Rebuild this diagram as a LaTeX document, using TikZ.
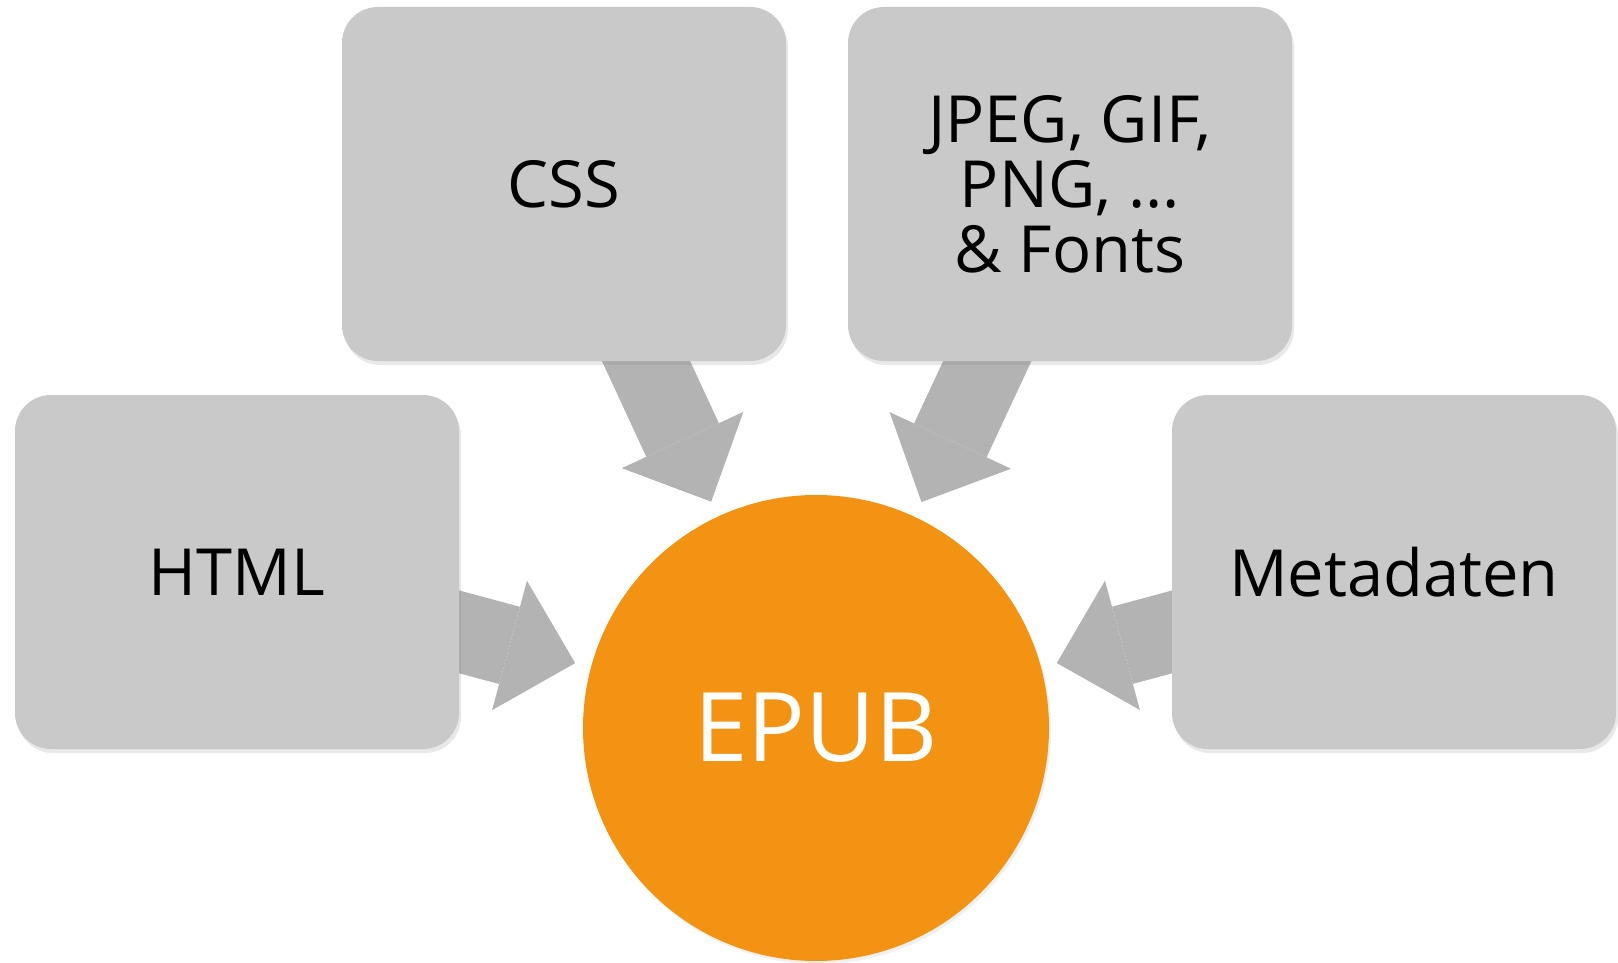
\documentclass[tikz,border=0pt]{standalone}
\usepackage{fontspec}
\setmainfont{Open Sans}
\usetikzlibrary{arrows.meta,shadows,backgrounds}

\definecolor{boxgray}{HTML}{C9C9C9}
\definecolor{arrowgray}{HTML}{B3B3B3}
\definecolor{epuborange}{HTML}{F39313}

\begin{document}
\begin{tikzpicture}[
  x=0.5pt, y=-0.5pt,
  part/.style={rectangle, rounded corners=18pt, fill=boxgray, draw=none,
    minimum width=222pt, minimum height=177pt, align=center, text=black,
    font=\fontsize{32.5}{32.5}\selectfont,
    drop shadow={opacity=0.18, shadow xshift=1pt, shadow yshift=-2pt}},
  hub/.style={circle, fill=epuborange, draw=none, minimum size=233pt,
    inner sep=0pt, text=white, font=\fontsize{48}{55}\selectfont,
    drop shadow={opacity=0.12, shadow xshift=1pt, shadow yshift=-1.5pt}},
  feed/.style={draw=arrowgray, line width=40pt, shorten >=8pt,
    -{Triangle[length=34pt, width=67pt, line width=0pt]}}
]

% page frame (pixel units)
\useasboundingbox (0,0) rectangle (1618,963);

% ---------- parts ----------
\node[part] (css)  at (564,184)  {CSS};
\node[part] (imgs) at (1070,184) {JPEG, GIF,\\PNG, ...\\\& Fonts};
\node[part] (html) at (237,572)  {HTML};
\node[part] (meta) at (1394,572) {Metadaten};

% ---------- container ----------
\node[hub] (epub) at (816,728) {EPUB};

% ---------- block arrows, kept under the boxes ----------
\begin{scope}[on background layer]
  \draw[feed] (css.center)  -- (epub);
  \draw[feed] (imgs.center) -- (epub);
  \draw[feed] (html.center) -- (epub);
  \draw[feed] (meta.center) -- (epub);
\end{scope}
\end{tikzpicture}
\end{document}
